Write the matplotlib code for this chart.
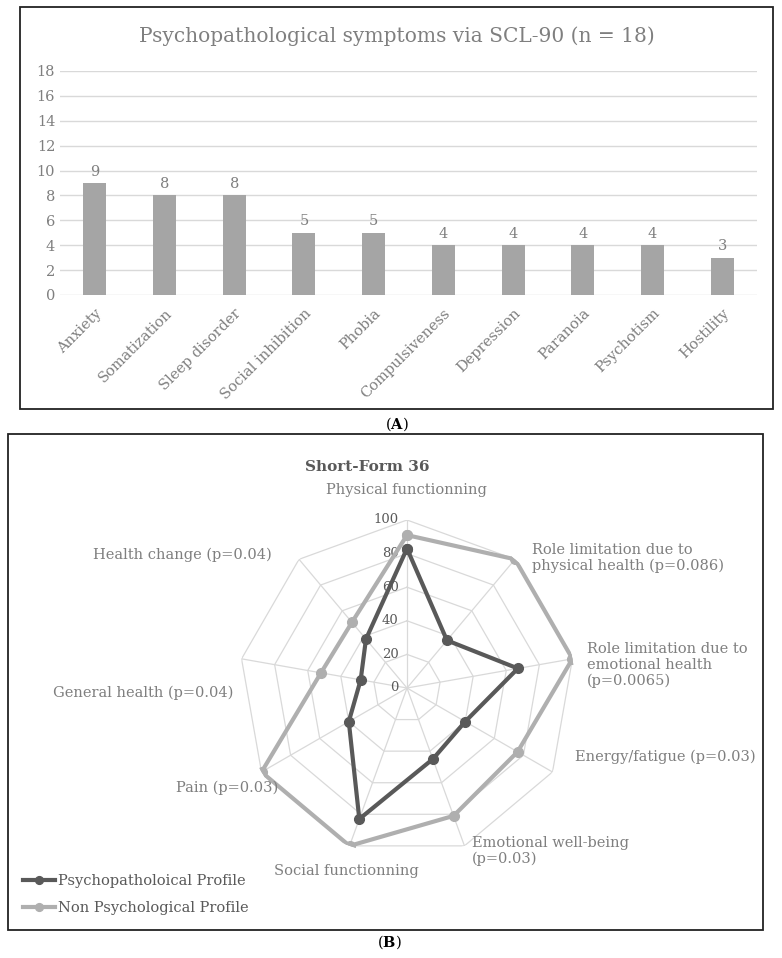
import numpy as np
import matplotlib
matplotlib.use("Agg")
from matplotlib import pyplot as plt
from matplotlib.patches import Rectangle

plt.rcParams['font.family'] = ['DejaVu Serif']
plt.rcParams['mathtext.fontset'] = 'dejavuserif'

# data, panel A
symptoms = ["Anxiety", "Somatization", "Sleep disorder", "Social inhibition", "Phobia",
            "Compulsiveness", "Depression", "Paranoia", "Psychotism", "Hostility"]
counts = [9, 8, 8, 5, 5, 4, 4, 4, 4, 3]
yticks_a = [0, 2, 4, 6, 8, 10, 12, 14, 16, 18]

# data, panel B
dimensions = ["Physical functionning",
              "Role limitation due to\nphysical health (p=0.086)",
              "Role limitation due to\nemotional health\n(p=0.0065)",
              "Energy/fatigue (p=0.03)",
              "Emotional well-being\n(p=0.03)",
              "Social functionning",
              "Pain (p=0.03)",
              "General health (p=0.04)",
              "Health change (p=0.04)"]
psycho = [83, 37, 67, 40, 45, 83, 40, 28, 38]
non_psycho = [91, 100, 100, 76, 81, 100, 100, 52, 51]
rticks_b = [0, 20, 40, 60, 80, 100]

W, H = 782, 958
fig = plt.figure(figsize=(W / 100, H / 100), dpi=100)

def fx(x):
    return x / W

def fy(y):
    return 1 - y / H

txt = '#7f7f7f'
grid = '#d9d9d9'

# frames
fig.patches.append(Rectangle((fx(20), fy(409)), fx(773) - fx(20), fy(7) - fy(409),
                             transform=fig.transFigure, fill=False, lw=1.3, ec='#222222'))
fig.patches.append(Rectangle((fx(8), fy(930)), fx(763) - fx(8), fy(434) - fy(930),
                             transform=fig.transFigure, fill=False, lw=1.3, ec='#222222'))

# panel A
ax = fig.add_axes([fx(60), fy(295), fx(757) - fx(60), fy(71) - fy(295)])
x = np.arange(len(symptoms))
ax.bar(x, counts, width=0.33, color='#a5a5a5', zorder=3)
for xi, c in zip(x, counts):
    ax.text(xi, c + 0.35, str(c), ha='center', va='bottom', color=txt, fontsize=10.5)
ax.set_xlim(-0.5, len(symptoms) - 0.5)
ax.set_ylim(0, 18)
ax.set_yticks(yticks_a)
ax.yaxis.grid(True, color=grid, lw=1, zorder=0)
ax.set_xticks(x)
ax.set_xticklabels(symptoms, rotation=45, ha='right', rotation_mode='anchor')
ax.tick_params(length=0, labelsize=10.5, labelcolor=txt)
ax.tick_params(axis='x', pad=8)
for s in ax.spines.values():
    s.set_visible(False)
fig.text(fx(397), fy(36), "Psychopathological symptoms via SCL-90 (n = 18)",
         ha='center', va='center', color=txt, fontsize=14.5)
fig.text(fx(397), fy(424), r"($\mathbf{A}$)", ha='center', va='center', fontsize=10.5)

# panel B
cx, cy, R = 407, 688, 168
pax = fig.add_axes([fx(cx - R), fy(cy + R), fx(2 * R), fy(0) - fy(2 * R)], projection='polar')
pax.set_theta_offset(np.pi / 2)
pax.set_theta_direction(-1)
pax.set_ylim(0, 100)
n = len(dimensions)
ang = np.arange(n) * 2 * np.pi / n
ring = np.append(ang, ang[0])
for r in rticks_b[1:]:
    pax.plot(ring, [r] * (n + 1), color=grid, lw=0.9, zorder=1)
for a in ang:
    pax.plot([a, a], [0, 100], color=grid, lw=0.9, zorder=1)
pax.grid(False)
pax.spines['polar'].set_visible(False)
pax.set_xticks([])
pax.set_yticks([])
pax.patch.set_alpha(0)
for r in rticks_b:
    pax.annotate(str(r), (0, r), xytext=(-6, 0), textcoords='offset points',
                 ha='right', va='center', color='#595959', fontsize=9.5)

pax.plot(ring, psycho + psycho[:1], color='#595959', lw=3,
         marker='o', ms=7, zorder=4, label="Psychopatholoical Profile")
pax.plot(ring, non_psycho + non_psycho[:1], color='#afafaf', lw=3,
         marker='o', ms=7, zorder=3, label="Non Psychological Profile")

# axis labels
label_pos = [(406, 490, 'center'), (532, 558, 'left'), (587, 665, 'left'),
             (575, 757, 'left'), (472, 851, 'left'), (346, 871, 'center'),
             (278, 788, 'right'), (233, 693, 'right'), (272, 555, 'right')]
for lab, (lx, ly, ha) in zip(dimensions, label_pos):
    fig.text(fx(lx), fy(ly), lab, ha=ha, va='center', color=txt, fontsize=10.5,
             linespacing=1.2)
fig.text(fx(367), fy(467), "Short-Form 36", ha='center', va='center', color='#595959',
         fontsize=11, weight='bold')

handles, labels = pax.get_legend_handles_labels()
fig.legend(handles, labels, loc='lower left', bbox_to_anchor=(fx(10), fy(928)),
           frameon=False, fontsize=10.5, labelcolor='#595959', handlelength=2.2,
           handletextpad=0.2, labelspacing=0.9, markerscale=0.8)

fig.text(fx(389), fy(942), r"($\mathbf{B}$)", ha='center', va='center', fontsize=10.5)

fig.savefig("out.png", dpi=100)
